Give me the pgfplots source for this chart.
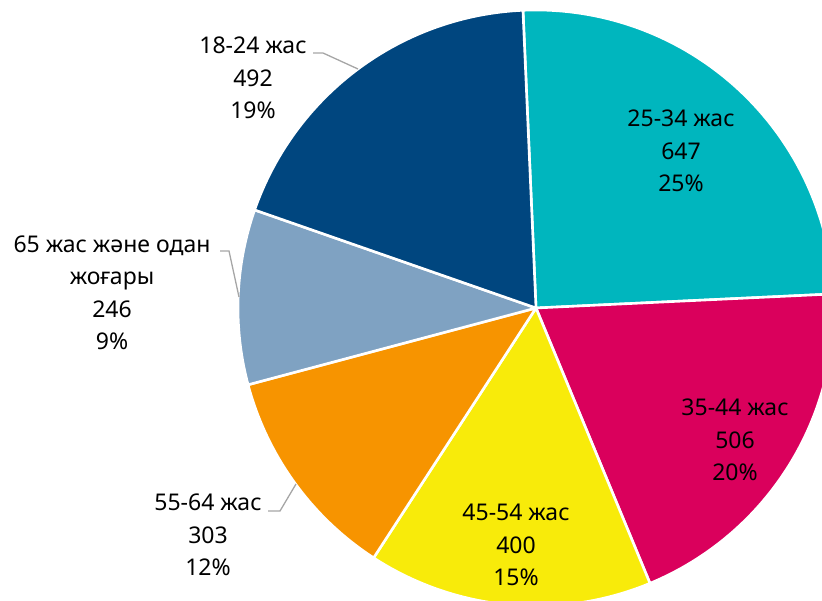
\documentclass[border=0pt]{standalone}
\usepackage{fontspec}
\setmainfont{Noto Sans}
\usepackage{pgfplots}
\pgfplotsset{compat=1.18}
\definecolor{cteal}{HTML}{00B6BE}
\definecolor{cmag}{HTML}{DA005C}
\definecolor{cyel}{HTML}{F8EB0A}
\definecolor{corg}{HTML}{F79400}
\definecolor{cgray}{HTML}{7FA2C2}
\definecolor{cnavy}{HTML}{00467F}
\definecolor{cline}{HTML}{A6A6A6}
% data (clockwise from top)
\pgfmathsetmacro\vA{647} % 25-34
\pgfmathsetmacro\vB{506} % 35-44
\pgfmathsetmacro\vC{400} % 45-54
\pgfmathsetmacro\vD{303} % 55-64
\pgfmathsetmacro\vE{246} % 65+
\pgfmathsetmacro\vF{492} % 18-24
\pgfmathsetmacro\tot{\vA+\vB+\vC+\vD+\vE+\vF}
\pgfmathsetmacro\aA{92.5}
\pgfmathsetmacro\aB{\aA-\vA/\tot*360}
\pgfmathsetmacro\aC{\aB-\vB/\tot*360}
\pgfmathsetmacro\aD{\aC-\vC/\tot*360}
\pgfmathsetmacro\aE{\aD-\vD/\tot*360}
\pgfmathsetmacro\aF{\aE-\vE/\tot*360}
\pgfmathsetmacro\aG{\aF-\vF/\tot*360}
\def\cx{536}
\def\cy{292}
\def\R{298}
\begin{document}
\begin{tikzpicture}
\useasboundingbox (0,0) rectangle (822pt,600pt);
\begin{axis}[width=822pt,height=600pt,scale only axis,
  xmin=0,xmax=822,ymin=0,ymax=600,hide axis,clip=true,
  at={(0,0)},anchor=south west]
\pgfplotsset{slice/.style={draw=white,line width=2.6pt,line join=round,samples=120,variable=\t}}
\addplot[slice,fill=cteal,domain=\aB:\aA] ({\cx+\R*cos(\t)},{\cy+\R*sin(\t)}) -- (axis cs:\cx,\cy) -- cycle;
\addplot[slice,fill=cmag,domain=\aC:\aB] ({\cx+\R*cos(\t)},{\cy+\R*sin(\t)}) -- (axis cs:\cx,\cy) -- cycle;
\addplot[slice,fill=cyel,domain=\aD:\aC] ({\cx+\R*cos(\t)},{\cy+\R*sin(\t)}) -- (axis cs:\cx,\cy) -- cycle;
\addplot[slice,fill=corg,domain=\aE:\aD] ({\cx+\R*cos(\t)},{\cy+\R*sin(\t)}) -- (axis cs:\cx,\cy) -- cycle;
\addplot[slice,fill=cgray,domain=\aF:\aE] ({\cx+\R*cos(\t)},{\cy+\R*sin(\t)}) -- (axis cs:\cx,\cy) -- cycle;
\addplot[slice,fill=cnavy,domain=\aG:\aF] ({\cx+\R*cos(\t)},{\cy+\R*sin(\t)}) -- (axis cs:\cx,\cy) -- cycle;
% leader lines
\addplot[cline,line width=1.3pt,mark=none] coordinates {(313,547) (323,547) (358,531)};
\addplot[cline,line width=1.3pt,mark=none] coordinates {(220,349) (229,349) (239,303)};
\addplot[cline,line width=1.3pt,mark=none] coordinates {(268,89) (280,89) (296,116)};
% labels
\tikzset{lbl/.style={align=center,font=\fontsize{23}{32.5}\selectfont,text=black,inner sep=0pt}}
\node[lbl] at (axis cs:681,449) {25-34 жас\\647\\25\%};
\node[lbl] at (axis cs:735,160) {35-44 жас\\506\\20\%};
\node[lbl] at (axis cs:516,55) {45-54 жас\\400\\15\%};
\node[lbl] at (axis cs:208,65) {55-64 жас\\303\\12\%};
\node[lbl] at (axis cs:112,307) {65 жас және одан\\жоғары\\246\\9\%};
\node[lbl] at (axis cs:253,522) {18-24 жас\\492\\19\%};
\end{axis}
\end{tikzpicture}
\end{document}
